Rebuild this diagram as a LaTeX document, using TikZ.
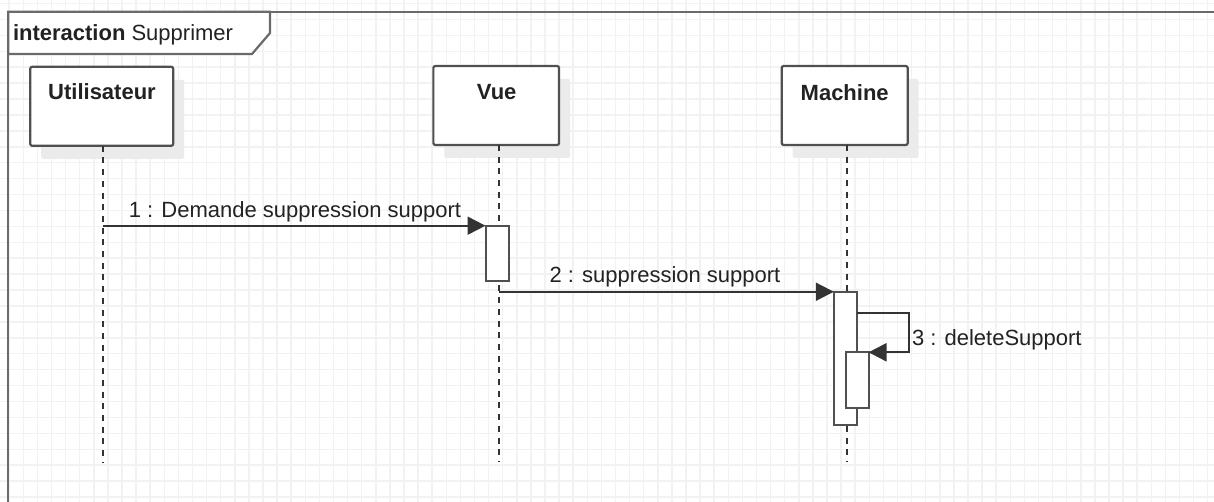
\documentclass[tikz,border=0pt]{standalone}
\usepackage{fontspec}
\setmainfont{Liberation Sans}
\usetikzlibrary{arrows.meta,shadows}
\definecolor{gridc}{HTML}{F2F2F2}
\definecolor{framec}{HTML}{6A6A6A}
\definecolor{boxc}{HTML}{505050}
\definecolor{linec}{HTML}{333333}
\definecolor{textc}{HTML}{222222}
\definecolor{shadowc}{HTML}{EBEBEB}
\begin{document}
\begin{tikzpicture}[x=1pt,y=-1pt,
  every node/.style={inner sep=0pt, outer sep=0pt},
  txt/.style={font=\fontsize{22}{26}\selectfont, text=textc},
  boldtxt/.style={font=\fontsize{22}{26}\selectfont\bfseries, text=textc},
  lifebox/.style={draw=boxc, line width=2.2pt, fill=white, rounded corners=2pt,
    minimum height=79pt,
    drop shadow={shadow xshift=11pt, shadow yshift=-13pt, fill=shadowc, opacity=1}},
  lifeline/.style={draw=linec, line width=1.8pt, dash pattern=on 6pt off 5.7pt},
  act/.style={draw=boxc, line width=2pt, fill=white, minimum width=23pt},
  msg/.style={draw=linec, line width=2pt, -{Triangle[length=18pt,width=18pt]}},
  gridline/.style={draw=gridc, line width=1.5pt}]
\clip (0,0) rectangle (1214,502);
\fill[white] (0,0) rectangle (1214,502);
% grid
\foreach \k in {0,...,86} { \draw[gridline] ({9.2+14.1*\k},0) -- ({9.2+14.1*\k},502); }
\foreach \k in {0,...,31} { \draw[gridline] (0,{3.5+15.92*\k}) -- (1214,{3.5+15.92*\k}); }
% frame
\draw[framec, line width=2.2pt] (8.3,530) -- (8.3,11.7) -- (1230,11.7);
\draw[framec, line width=2.2pt, fill=white] (8.3,11.7) -- (270,11.7) -- (270,33) -- (252,54) -- (8.3,54) -- cycle;
\node[boldtxt, anchor=base west] (ftitle) at (13,40.7) {interaction \textmd{Supprimer}};
% lifeline ends
\coordinate (uend) at (103.3,462);
\coordinate (vend) at (499,462);
\coordinate (mend) at (846.7,462);
% lifeline boxes
\node[lifebox, minimum width=143pt] (u) at (101.7,106.3) {};
\node[lifebox, minimum width=125.7pt] (v) at (496.2,105.5) {};
\node[lifebox, minimum width=126pt] (m) at (844.7,105.5) {};
\node[boldtxt, anchor=base] (ut) at (102,100) {Utilisateur};
\node[boldtxt, anchor=base] (vt) at (496.7,100) {Vue};
\node[boldtxt, anchor=base] (mt) at (844.7,100.5) {Machine};
% lifelines
\draw[lifeline] (u.south -| uend) -- (uend);
\draw[lifeline] (v.south -| vend) -- (vend);
\draw[lifeline] (m.south -| mend) -- (mend);
% activations
\node[act, minimum height=55pt] (va) at (497,253.2) {};
\node[act, minimum height=133.3pt] (ma) at (845.3,358.4) {};
\node[act, minimum height=55.4pt] (na) at (857,380) {};
% messages
\draw[msg] (va.north west -| uend) -- (va.north west);
\node[txt, anchor=base] (l1) at (295,217.3) {1 : Demande suppression support};
\draw[msg] (ma.north west -| vend) -- (ma.north west);
\node[txt, anchor=base] (l2) at (665,283) {2 : suppression support};
\coordinate (sr) at (909,312.7);
\draw[msg] (sr -| ma.east) -- (sr) -- (sr |- na.north east) -- (na.north east);
\node[txt, anchor=base west] (l3) at (912,345) {3 : deleteSupport};
\end{tikzpicture}
\end{document}
